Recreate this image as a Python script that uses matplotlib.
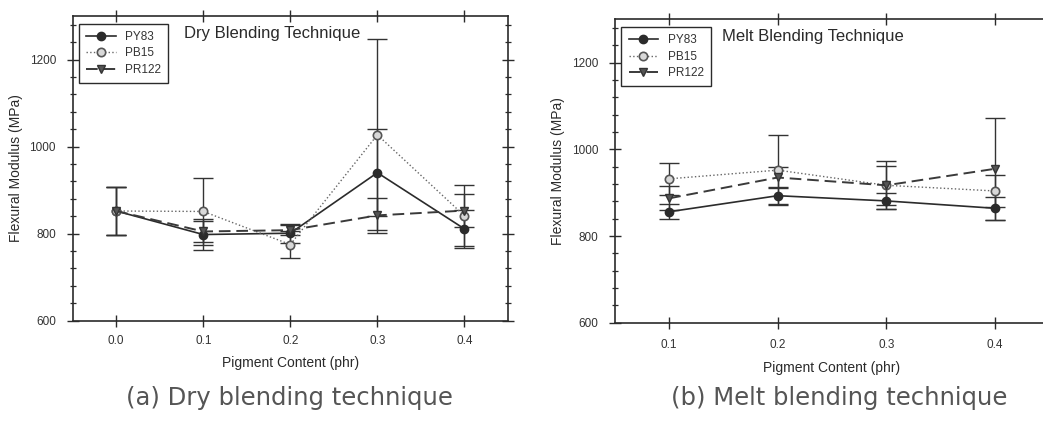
import matplotlib
matplotlib.use("Agg")
import matplotlib.pyplot as plt
from matplotlib.ticker import MultipleLocator, FormatStrFormatter

plt.rcParams['font.family'] = ['Liberation Sans', 'DejaVu Sans']

# Dry blending (a)
dry_x = [0.0, 0.1, 0.2, 0.3, 0.4]
dry_py83 = [852, 798, 801, 940, 811]
dry_py83_err = [55, 35, 22, 100, 44]
dry_pb15 = [852, 851, 775, 1027, 841]
dry_pb15_err = [55, 77, 31, 219, 70]
dry_pr122 = [852, 805, 808, 842, 853]
dry_pr122_err = [55, 25, 12, 40, 37]

# Melt blending (b)
melt_x = [0.1, 0.2, 0.3, 0.4]
melt_py83 = [856, 893, 881, 864]
melt_py83_err = [17, 19, 19, 27]
melt_pb15 = [932, 952, 917, 904]
melt_pb15_err = [37, 81, 55, 37]
melt_pr122 = [887, 935, 917, 955]
melt_pr122_err = [28, 25, 45, 117]

series_names = ["PY83", "PB15", "PR122"]
panel_titles = ["Dry Blending Technique", "Melt Blending Technique"]
captions = ["(a) Dry blending technique", "(b) Melt blending technique"]
x_label = "Pigment Content (phr)"
y_label = "Flexural Modulus (MPa)"

INK = "#2b2b2b"
styles = [
    dict(ls='-', lw=1.2, color=INK, marker='o', ms=6, mfc=INK, mec=INK),
    dict(ls=':', lw=1.0, color='#666666', marker='o', ms=6, mfc='#d8d8d8', mec='#555555', mew=1.2),
    dict(ls=(0, (6, 3)), lw=1.4, color='#3a3a3a', marker='v', ms=6, mfc='#555555', mec='#333333'),
]

fig = plt.figure(figsize=(10.43, 4.23), dpi=100)
fig.patch.set_facecolor('white')

ax_a = fig.add_axes([0.0697, 0.2418, 0.4173, 0.7204])
ax_b = fig.add_axes([0.5896, 0.2371, 0.4161, 0.7173])


def draw_panel(ax, x, vals, errs, xlim, xticks, xfmt, title, title_x, xpad):
    for v, e, st, name in zip(vals, errs, styles, series_names):
        ax.errorbar(x, v, yerr=e, fmt='none', ecolor='#333333', elinewidth=1.0,
                    capsize=7, capthick=1.0, zorder=2)
        ax.plot(x, v, label=name, zorder=3, **st)
    ax.set_xlim(*xlim)
    ax.set_ylim(600, 1300)
    ax.set_xticks(xticks)
    ax.xaxis.set_major_formatter(FormatStrFormatter(xfmt))
    ax.yaxis.set_major_locator(MultipleLocator(200))
    ax.yaxis.set_minor_locator(MultipleLocator(40))
    ax.tick_params(axis='both', which='major', direction='inout', length=8, width=1.0,
                   color=INK, labelsize=8.5, labelcolor='#333333',
                   top=True, right=True)
    ax.tick_params(axis='x', pad=xpad)
    ax.tick_params(axis='y', pad=8)
    ax.tick_params(axis='y', which='minor', direction='inout', length=5, width=0.9,
                   color=INK, right=True)
    for sp in ax.spines.values():
        sp.set_linewidth(1.2)
        sp.set_color(INK)
    ax.set_xlabel(x_label, fontsize=10, color='#2a2a2a', labelpad=7)
    ax.set_ylabel(y_label, fontsize=10, color='#2a2a2a')
    ax.yaxis.set_label_coords(-0.114, 0.5)
    leg = ax.legend(loc='upper left', bbox_to_anchor=(0.015, 0.975), fontsize=8.5,
                    frameon=True, fancybox=False, edgecolor=INK, framealpha=1,
                    handlelength=2.5, handletextpad=0.8, borderpad=0.6,
                    labelspacing=0.4, borderaxespad=0.0)
    leg.get_frame().set_linewidth(1.0)
    for t in leg.get_texts():
        t.set_color('#333333')
    ax.text(title_x, 0.944, title, transform=ax.transAxes, fontsize=12,
            color='#2a2a2a', ha='left', va='center')


draw_panel(ax_a, dry_x, [dry_py83, dry_pb15, dry_pr122],
           [dry_py83_err, dry_pb15_err, dry_pr122_err],
           (-0.05, 0.45), dry_x, '%.1f', panel_titles[0], 0.256, 6)
draw_panel(ax_b, melt_x, [melt_py83, melt_pb15, melt_pr122],
           [melt_py83_err, melt_pb15_err, melt_pr122_err],
           (0.05, 0.45), melt_x, '%.1f', panel_titles[1], 0.247, 8)

fig.text(0.2776, 0.059, captions[0], ha='center', va='center', fontsize=17.5,
         color='#555555', family=['DejaVu Sans'])
fig.text(0.805, 0.059, captions[1], ha='center', va='center', fontsize=17.5,
         color='#555555', family=['DejaVu Sans'])

fig.savefig('out.png', dpi=100, facecolor='white')
